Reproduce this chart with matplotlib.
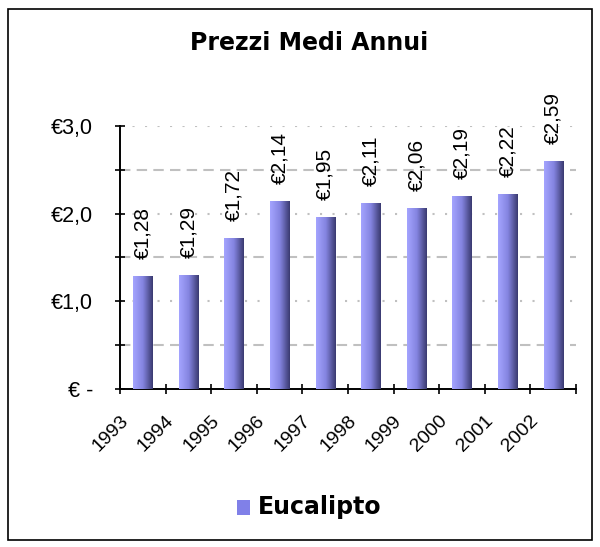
import matplotlib.pyplot as plt
import numpy as np
from matplotlib.colors import LinearSegmentedColormap
from matplotlib.patches import Rectangle

anni = ["1993", "1994", "1995", "1996", "1997", "1998", "1999", "2000", "2001", "2002"]
prezzi = [1.28, 1.29, 1.72, 2.14, 1.95, 2.11, 2.06, 2.19, 2.22, 2.59]
etichette = ["€1,28", "€1,29", "€1,72", "€2,14", "€1,95", "€2,11", "€2,06", "€2,19", "€2,22", "€2,59"]
y_ticks = [0, 1, 2, 3]
y_labels = ["€ -", "€1,0", "€2,0", "€3,0"]

grad = LinearSegmentedColormap.from_list("viola", ["#a4a4ff", "#8484e0", "#3a3a70"])
font_num = "Liberation Sans"

fig = plt.figure(figsize=(6, 5.47), dpi=100)
fig.patches.append(Rectangle((0.014, 0.012), 0.972, 0.972, transform=fig.transFigure,
                             fill=False, edgecolor="black", linewidth=1.2))
ax = fig.add_axes([0.2, 0.289, 0.76, 0.481])

x = np.arange(len(anni))
w = 0.42
ramp = np.linspace(0, 1, 64).reshape(1, -1)
for xi, v, lab in zip(x, prezzi, etichette):
    ax.imshow(ramp, cmap=grad, aspect="auto", extent=(xi - w / 2, xi + w / 2, 0, v),
              zorder=3, interpolation="bilinear")
    ax.text(xi, v + 0.2, lab, rotation=90, ha="center", va="bottom",
            fontsize=15, family=font_num)

ax.set_xlim(-0.5, len(anni) - 0.5)
ax.set_ylim(0, 3.0)

# griglia: punteggiata sui valori interi, tratteggiata a metà
for g in [1, 2, 3]:
    ax.axhline(g, color="#c0c0c0", linestyle=(0, (1, 5)), linewidth=1.5, zorder=1)
for g in [0.5, 1.5, 2.5]:
    ax.axhline(g, color="#c0c0c0", linestyle=(0, (5, 3)), linewidth=1.5, zorder=1)

ax.set_yticks(y_ticks)
ax.set_yticklabels(y_labels, fontsize=15.5, family=font_num)
ax.set_yticks([0.5, 1.5, 2.5], minor=True)
ax.tick_params(axis="y", which="both", direction="inout", length=7, width=1.2, pad=16)

ax.set_xticks(np.arange(len(anni) + 1) - 0.5)
ax.set_xticklabels([])
ax.tick_params(axis="x", direction="inout", length=7, width=1.2)
for xi, a in zip(x, anni):
    ax.text(xi - 0.38, -0.33, a, rotation=45, ha="right", va="center",
            rotation_mode="anchor", fontsize=14, family=font_num)

for s in ["top", "right"]:
    ax.spines[s].set_visible(False)
ax.spines["left"].set_linewidth(1.4)
ax.spines["bottom"].set_linewidth(1.4)

fig.text(0.515, 0.921, "Prezzi Medi Annui", ha="center", va="center",
         fontsize=17, fontweight="bold")

# legenda
fig.patches.append(Rectangle((0.395, 0.058), 0.022, 0.028, transform=fig.transFigure,
                             facecolor="#8080e8", edgecolor="none"))
fig.text(0.43, 0.074, "Eucalipto", ha="left", va="center", fontsize=17, fontweight="bold")

fig.savefig("out.png", dpi=100)
